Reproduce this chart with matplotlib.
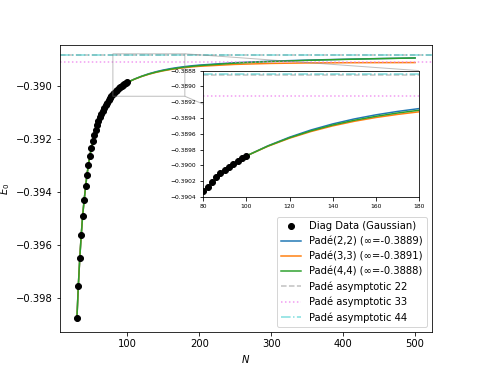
import matplotlib
matplotlib.use("Agg")
import matplotlib.pyplot as plt
from matplotlib.ticker import MultipleLocator

# diagonalisation data (Gaussian basis)
n_data = list(range(30, 101, 2))
e_data = [-0.39877, -0.39753, -0.39649, -0.39563, -0.39490, -0.39432,
          -0.39378, -0.39335, -0.39298, -0.39264, -0.39234, -0.39209,
          -0.39185, -0.39166, -0.39149, -0.39133, -0.39119, -0.39106,
          -0.39094, -0.39083, -0.39073, -0.39064, -0.39055, -0.39047,
          -0.39040, -0.39033, -0.39027, -0.39021, -0.39015, -0.39010,
          -0.39006, -0.39002, -0.38998, -0.38994, -0.38991, -0.38988]

# Pade curves
n_fit = [30, 32, 34, 36, 38, 40, 44, 48, 52, 56, 60, 66, 72, 80, 90, 100,
         110, 120, 130, 140, 150, 160, 170, 180, 190, 200, 250, 300, 350, 400, 450, 500]
e_low = [-0.39877, -0.39753, -0.39649, -0.39563, -0.39490, -0.39432, -0.39335,
         -0.39264, -0.39209, -0.39166, -0.39133, -0.39094, -0.39064, -0.39033,
         -0.39006, -0.38988]
e_pade22 = e_low + [-0.389752, -0.389643, -0.389551, -0.389475, -0.389412, -0.389360,
                    -0.389317, -0.389281, -0.389251, -0.389226, -0.389135, -0.389078,
                    -0.389038, -0.389007, -0.388980, -0.388958]
e_pade33 = e_low + [-0.389758, -0.389656, -0.389571, -0.389500, -0.389442, -0.389394,
                    -0.389355, -0.389322, -0.389295, -0.389272, -0.389200, -0.389163,
                    -0.389145, -0.389137, -0.389133, -0.389131]
e_pade44 = e_low + [-0.389755, -0.389650, -0.389562, -0.389489, -0.389429, -0.389379,
                    -0.389337, -0.389302, -0.389272, -0.389246, -0.389151, -0.389091,
                    -0.389048, -0.389013, -0.388983, -0.388958]

asym22 = -0.388855
asym33 = -0.38912
asym44 = -0.388845

fig, ax = plt.subplots(figsize=(480 / 72, 373 / 72), dpi=72)


def draw(a):
    a.plot(n_data, e_data, 'o', color='black', markersize=6, zorder=3,
           label='Diag Data (Gaussian)')
    a.plot(n_fit, e_pade22, color='C0', label='Padé(2,2) (∞=-0.3889)')
    a.plot(n_fit, e_pade33, color='C1', label='Padé(3,3) (∞=-0.3891)')
    a.plot(n_fit, e_pade44, color='C2', label='Padé(4,4) (∞=-0.3888)')
    a.axhline(asym22, color='gray', ls='--', alpha=0.5, label='Padé asymptotic 22')
    a.axhline(asym33, color='violet', ls=':', alpha=0.8, label='Padé asymptotic 33')
    a.axhline(asym44, color='c', ls='-.', alpha=0.5, label='Padé asymptotic 44')


draw(ax)
ax.set_xlim(6.5, 523.5)
ax.set_ylim(-0.39928, -0.38846)
ax.set_xlabel('$N$')
ax.set_ylabel('$E_0$')
ax.legend(loc='lower right')

axins = ax.inset_axes([0.385, 0.47, 0.58, 0.44])
draw(axins)
axins.set_xlim(80, 180)
axins.set_ylim(-0.3904, -0.3888)
axins.yaxis.set_major_locator(MultipleLocator(0.0002))
axins.tick_params(labelsize=6)
ax.indicate_inset_zoom(axins)

plt.savefig('out.png')
